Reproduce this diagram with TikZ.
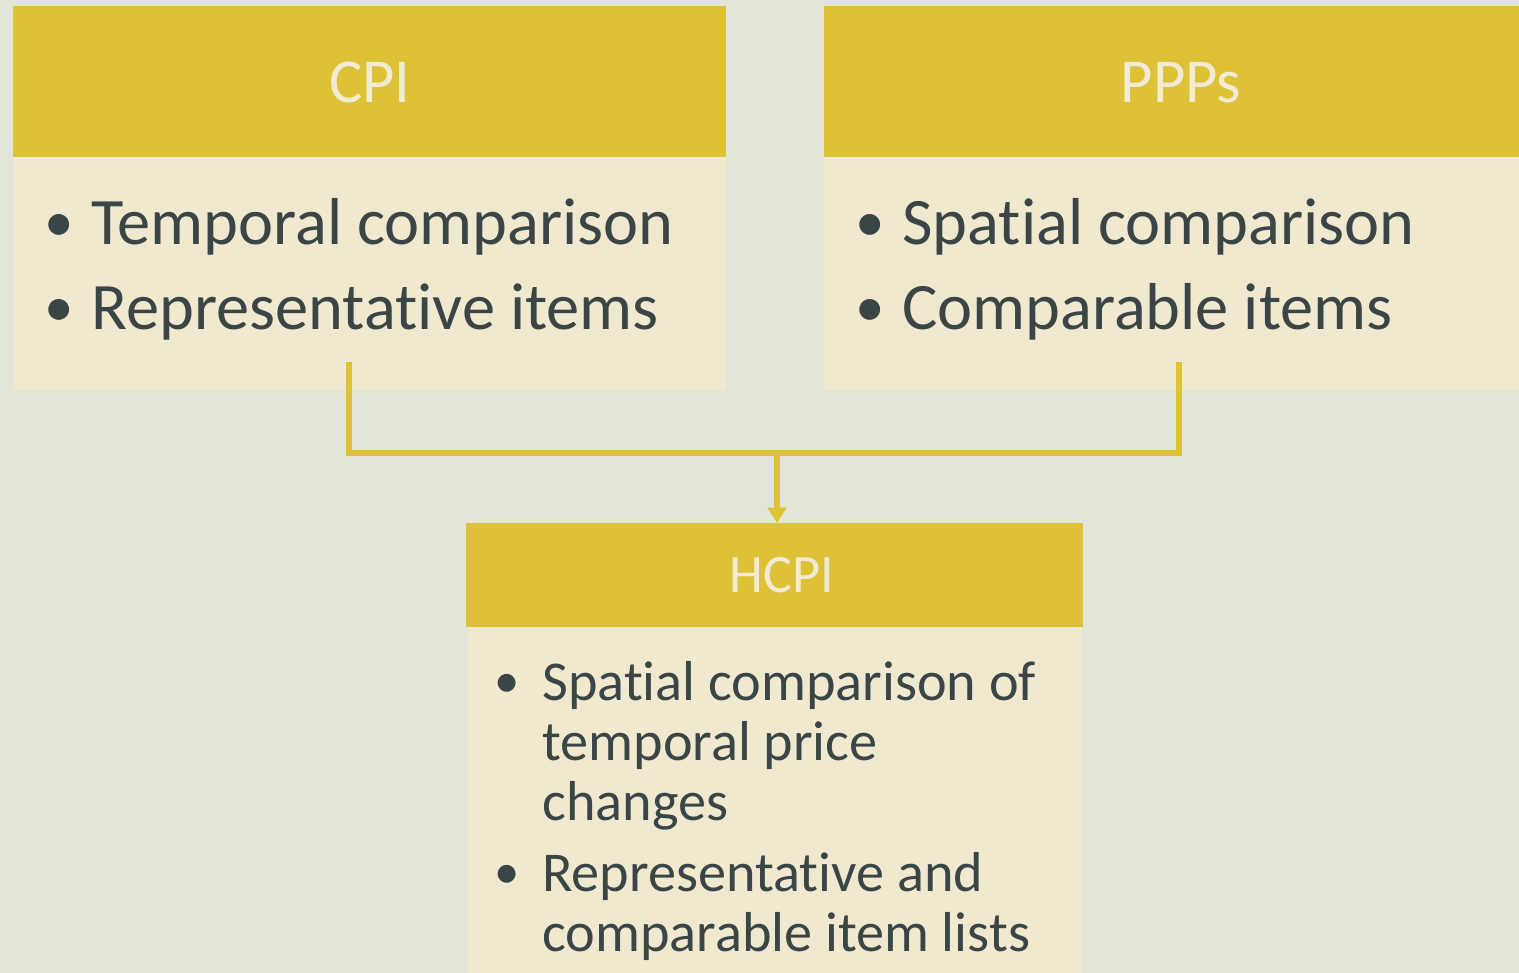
\documentclass[tikz,border=0pt]{standalone}
\usepackage{fontspec}
\setmainfont[RawFeature=-liga]{Carlito}
\usetikzlibrary{arrows.meta}
\definecolor{bgc}{HTML}{E4E5D9}
\definecolor{hdrc}{HTML}{DDC236}
\definecolor{bodyc}{HTML}{F1E8D0}
\definecolor{txtc}{HTML}{3A4545}
\definecolor{htxt}{HTML}{F2EBD3}
\tikzset{
  boxbase/.style={anchor=north west, inner sep=0pt, outer sep=0pt, draw=none},
  hdrbox/.style={boxbase, fill=hdrc},
  bodybox/.style={boxbase, fill=bodyc},
  hdrtext/.style={anchor=base, inner sep=0pt, text=htxt},
  bigtext/.style={anchor=base west, inner sep=0pt, text=txtc, font=\fontsize{47.2}{56}\selectfont},
  midtext/.style={anchor=base west, inner sep=0pt, text=txtc, font=\fontsize{40}{48}\selectfont},
  bigbul/.style={anchor=base west, inner sep=0pt, text=txtc, font=\fontsize{42}{56}\selectfont},
  midbul/.style={anchor=base west, inner sep=0pt, text=txtc, font=\fontsize{36}{48}\selectfont},
  conn/.style={draw=hdrc, line width=4.3pt},
}
\begin{document}
\begin{tikzpicture}[x=0.025cm,y=-0.025cm]
\fill[bgc] (0,0) rectangle (1519,973);
\useasboundingbox (0,0) rectangle (1519,973);
% boxes
\node[hdrbox, minimum width=713*0.025cm, minimum height=151*0.025cm] (cpih) at (13,6) {};
\node[bodybox, minimum width=713*0.025cm, minimum height=233*0.025cm] (cpib) at (13,157) {};
\node[hdrbox, minimum width=700*0.025cm, minimum height=151*0.025cm] (ppph) at (824,6) {};
\node[bodybox, minimum width=700*0.025cm, minimum height=233*0.025cm] (pppb) at (824,157) {};
\node[hdrbox, minimum width=617*0.025cm, minimum height=104*0.025cm] (hcpih) at (466,523) {};
\node[bodybox, minimum width=614*0.025cm, minimum height=350*0.025cm] (hcpib) at (468,627) {};
% header texts
\node[hdrtext, font=\fontsize{44.5}{52}\selectfont] (t1) at (370,102) {CPI};
\node[hdrtext, font=\fontsize{44.5}{52}\selectfont] (t2) at (1181,102) {PPPs};
\node[hdrtext, font=\fontsize{38.5}{46}\selectfont] (t3) at (782,592) {HCPI};
% CPI body
\node[bigbul] (c1b) at (44,241) {•};
\node[bigtext] (c1) at (91,244) {Temporal comparison};
\node[bigbul] (c2b) at (44,326) {•};
\node[bigtext] (c2) at (91,329) {Representative items};
% PPP body
\node[bigbul] (p1b) at (855,241) {•};
\node[bigtext] (p1) at (902,244) {Spatial comparison};
\node[bigbul] (p2b) at (855,326) {•};
\node[bigtext] (p2) at (902,329) {Comparable items};
% HCPI body
\node[midbul] (h1b) at (494,697) {•};
\node[midtext] (h1) at (542,700) {Spatial comparison of};
\node[midtext] (h2) at (542,760) {temporal price};
\node[midtext] (h3) at (542,820) {changes};
\node[midbul] (h4b) at (494,888) {•};
\node[midtext] (h4) at (542,891) {Representative and};
\node[midtext] (h5) at (542,951) {comparable item lists};
% connectors
\coordinate (a1) at (349,362);
\coordinate (a2) at (349,453);
\coordinate (b1) at (1179,362);
\coordinate (b2) at (1179,453);
\coordinate (m) at (777,453);
\draw[conn] (a1) -- (a2) -- (b2) -- (b1);
\draw[conn, -{Triangle[width=13pt,length=11pt]}] (m) -- (m |- hcpih.north);
\end{tikzpicture}
\end{document}
